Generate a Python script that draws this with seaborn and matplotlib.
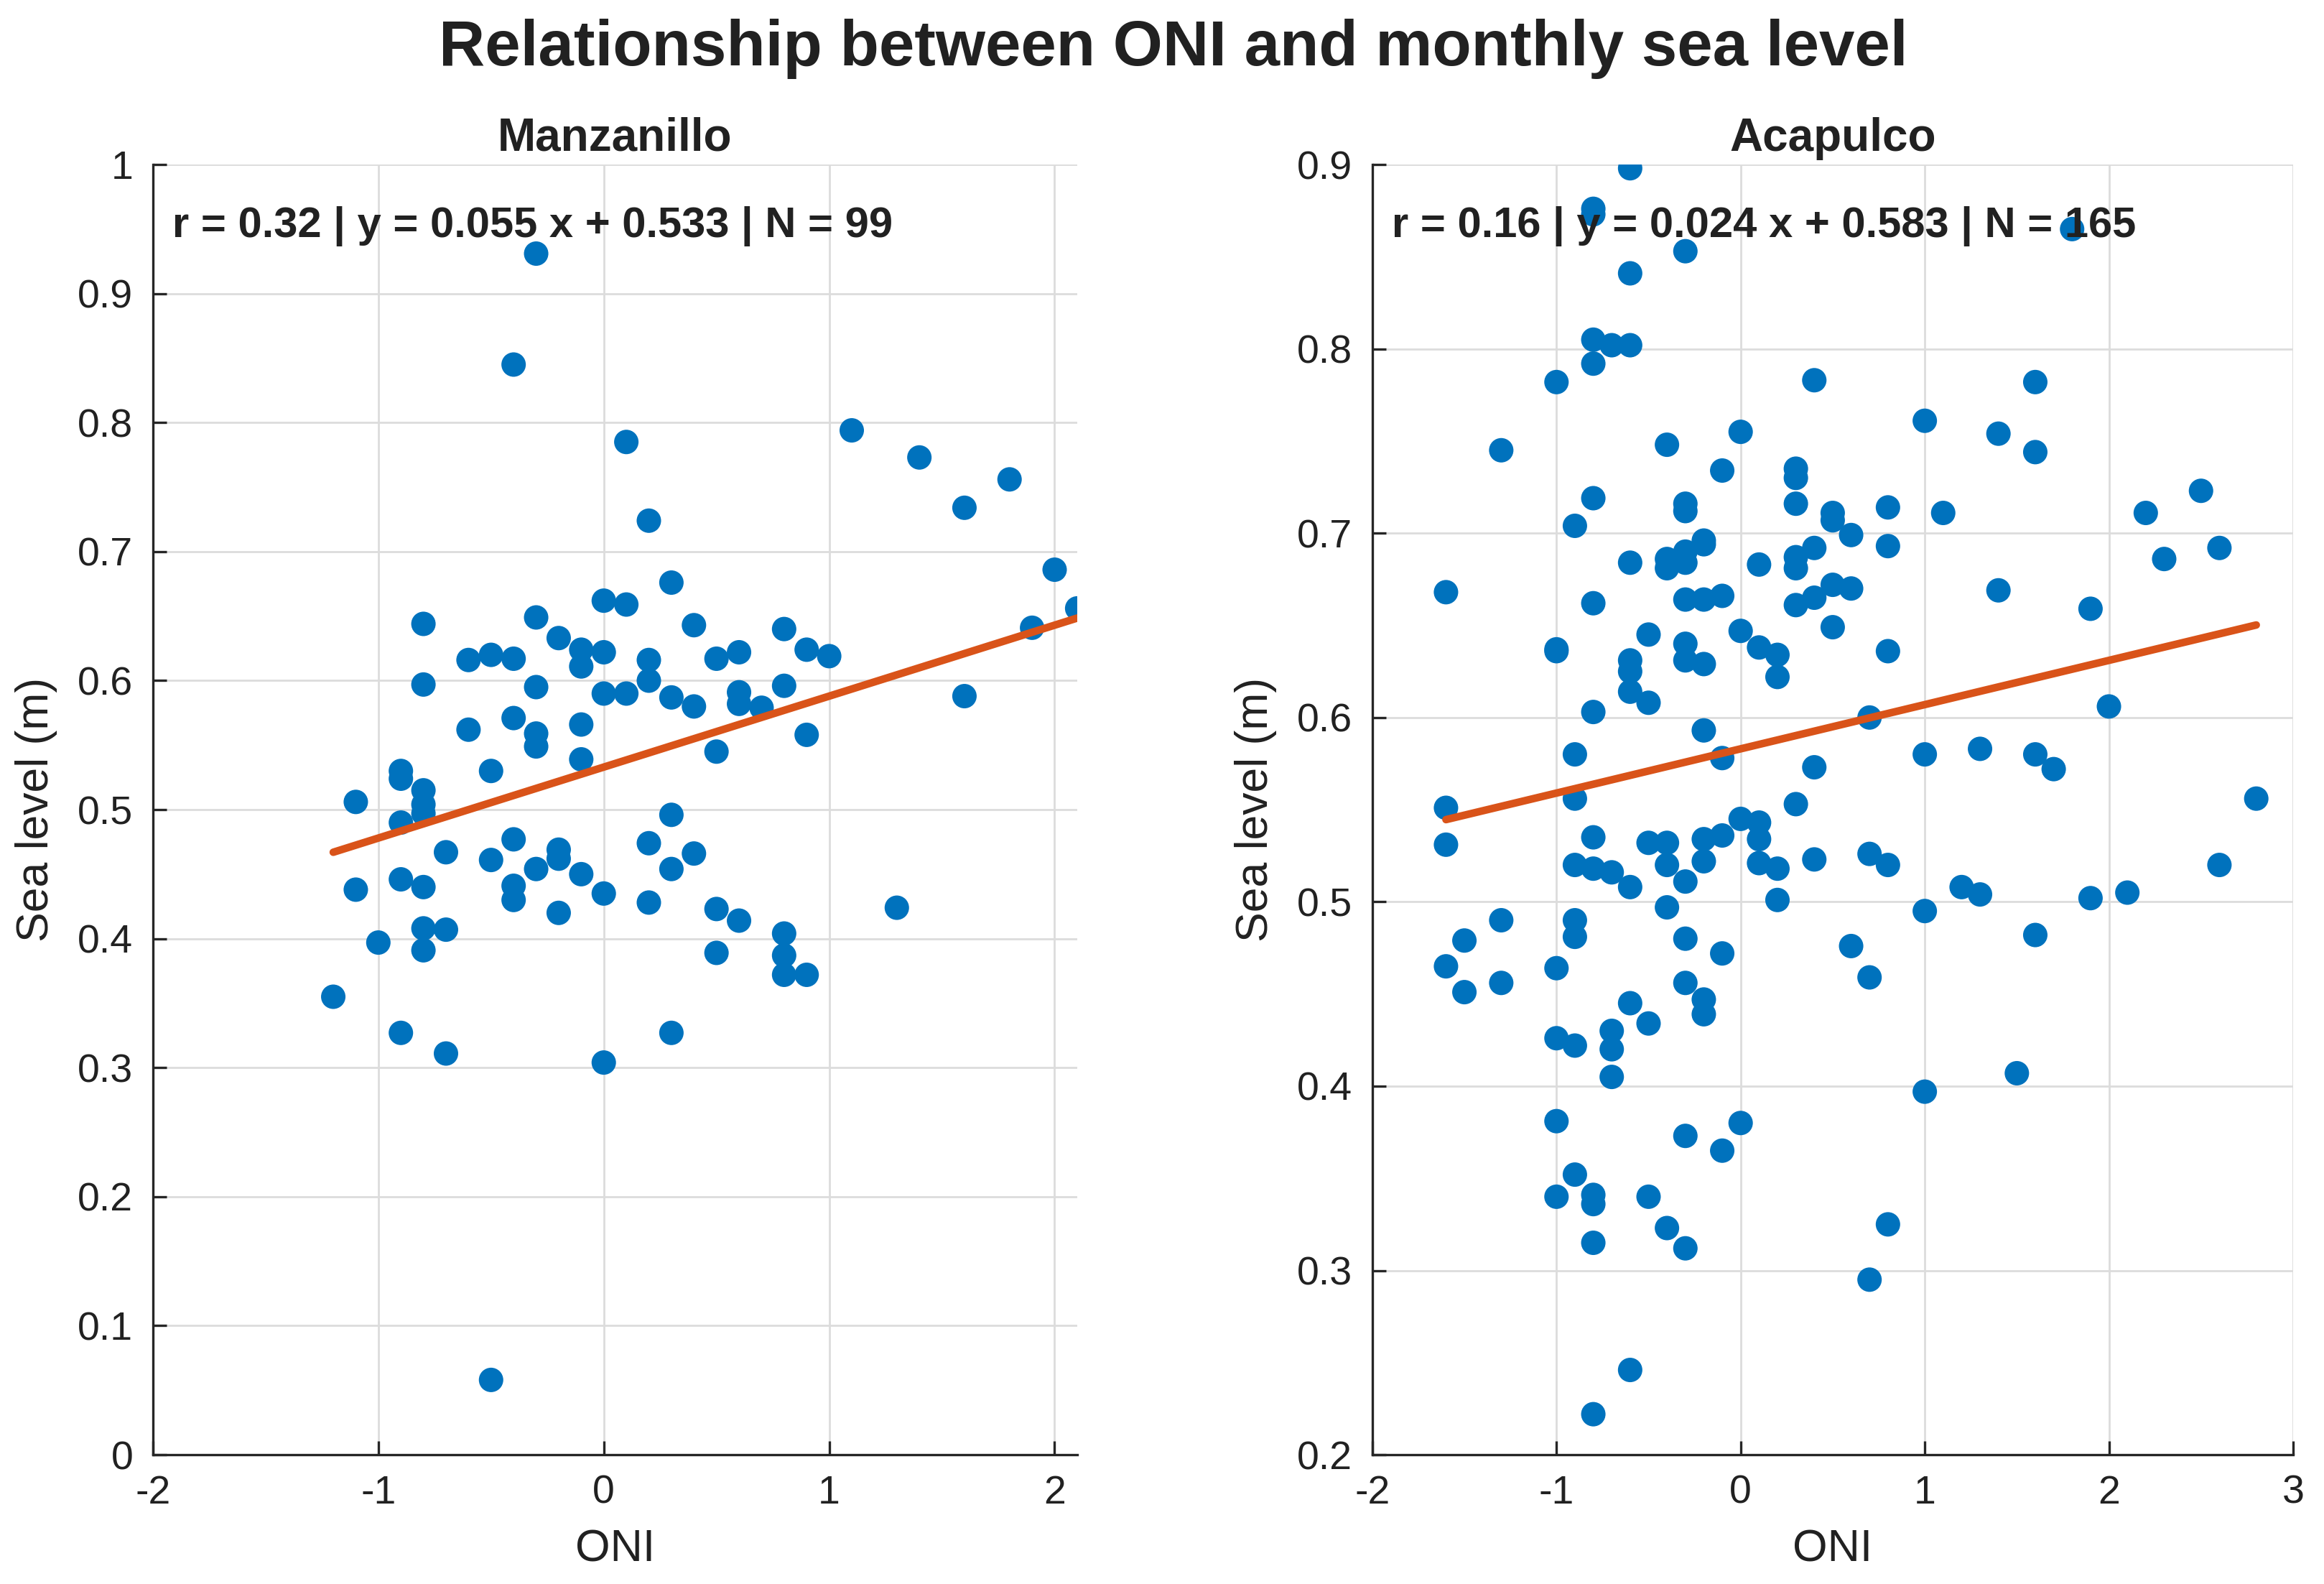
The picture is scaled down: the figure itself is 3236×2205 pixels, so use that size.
import matplotlib
matplotlib.use('Agg')
import matplotlib.pyplot as plt
import matplotlib.ticker as mticker
import numpy as np
import pandas as pd
import seaborn as sns

# Manzanillo: monthly ONI vs sea level (m)
manz_oni = [-1.2, -1.1, -1.1, -1.0,
            -0.9, -0.9, -0.9, -0.9, -0.9,
            -0.8, -0.8, -0.8, -0.8, -0.8, -0.8, -0.8, -0.8,
            -0.7, -0.7, -0.7, -0.6, -0.6,
            -0.5, -0.5, -0.5, -0.5,
            -0.4, -0.4, -0.4, -0.4, -0.4, -0.4,
            -0.3, -0.3, -0.3, -0.3, -0.3, -0.3,
            -0.2, -0.2, -0.2, -0.2,
            -0.1, -0.1, -0.1, -0.1, -0.1,
            0.0, 0.0, 0.0, 0.0, 0.0,
            0.1, 0.1, 0.1,
            0.2, 0.2, 0.2, 0.2, 0.2,
            0.3, 0.3, 0.3, 0.3, 0.3,
            0.4, 0.4, 0.4,
            0.5, 0.5, 0.5, 0.5,
            0.6, 0.6, 0.6, 0.6,
            0.7,
            0.8, 0.8, 0.8, 0.8, 0.8,
            0.9, 0.9, 0.9,
            1.0, 1.1, 1.3, 1.4, 1.6, 1.6, 1.8, 1.9, 2.0, 2.1]
manz_sl = [0.355, 0.506, 0.438, 0.397,
           0.530, 0.524, 0.490, 0.446, 0.327,
           0.644, 0.597, 0.515, 0.504, 0.497, 0.440, 0.408, 0.391,
           0.467, 0.407, 0.311, 0.616, 0.562,
           0.620, 0.530, 0.461, 0.058,
           0.845, 0.617, 0.571, 0.477, 0.441, 0.430,
           0.931, 0.649, 0.595, 0.559, 0.549, 0.454,
           0.633, 0.469, 0.462, 0.420,
           0.624, 0.611, 0.566, 0.539, 0.450,
           0.662, 0.622, 0.590, 0.435, 0.304,
           0.785, 0.659, 0.590,
           0.724, 0.616, 0.600, 0.474, 0.428,
           0.676, 0.587, 0.496, 0.454, 0.327,
           0.643, 0.580, 0.466,
           0.617, 0.545, 0.423, 0.389,
           0.622, 0.591, 0.582, 0.414,
           0.579,
           0.640, 0.596, 0.404, 0.387, 0.372,
           0.624, 0.558, 0.372,
           0.619, 0.794, 0.424, 0.773, 0.734, 0.588, 0.756, 0.641, 0.686, 0.656]

# Acapulco
acap_oni = [-1.6, -1.6, -1.6, -1.6, -1.5, -1.5, -1.3, -1.3, -1.3,
            -1.0, -1.0, -1.0, -1.0, -1.0, -1.0, -1.0,
            -0.9, -0.9, -0.9, -0.9, -0.9, -0.9, -0.9, -0.9,
            -0.8, -0.8, -0.8, -0.8, -0.8, -0.8, -0.8, -0.8, -0.8, -0.8, -0.8, -0.8, -0.8,
            -0.7, -0.7, -0.7, -0.7, -0.7,
            -0.6, -0.6, -0.6, -0.6, -0.6, -0.6, -0.6, -0.6, -0.6, -0.6,
            -0.5, -0.5, -0.5, -0.5, -0.5,
            -0.4, -0.4, -0.4, -0.4, -0.4, -0.4, -0.4,
            -0.3, -0.3, -0.3, -0.3, -0.3, -0.3, -0.3, -0.3, -0.3, -0.3, -0.3, -0.3, -0.3,
            -0.2, -0.2, -0.2, -0.2, -0.2, -0.2, -0.2, -0.2, -0.2,
            -0.1, -0.1, -0.1, -0.1, -0.1, -0.1,
            0.0, 0.0, 0.0, 0.0,
            0.1, 0.1, 0.1, 0.1, 0.1,
            0.2, 0.2, 0.2, 0.2,
            0.3, 0.3, 0.3, 0.3, 0.3, 0.3, 0.3,
            0.4, 0.4, 0.4, 0.4, 0.4,
            0.5, 0.5, 0.5, 0.5,
            0.6, 0.6, 0.6,
            0.7, 0.7, 0.7, 0.7,
            0.8, 0.8, 0.8, 0.8, 0.8,
            1.0, 1.0, 1.0, 1.0,
            1.1, 1.2, 1.3, 1.3, 1.4, 1.4, 1.5,
            1.6, 1.6, 1.6, 1.6, 1.7, 1.8, 1.9, 1.9,
            2.0, 2.1, 2.2, 2.3, 2.5, 2.6, 2.6, 2.8]
acap_sl = [0.668, 0.551, 0.531, 0.465, 0.479, 0.451, 0.745, 0.490, 0.456,
           0.782, 0.637, 0.636, 0.464, 0.426, 0.381, 0.340,
           0.704, 0.580, 0.556, 0.520, 0.490, 0.481, 0.422, 0.352,
           0.876, 0.873, 0.805, 0.792, 0.719, 0.662, 0.603, 0.535, 0.518, 0.341, 0.336, 0.315, 0.222,
           0.802, 0.516, 0.430, 0.420, 0.405,
           0.898, 0.841, 0.802, 0.684, 0.631, 0.625, 0.614, 0.508, 0.445, 0.246,
           0.645, 0.608, 0.532, 0.434, 0.340,
           0.748, 0.686, 0.681, 0.532, 0.520, 0.497, 0.323,
           0.853, 0.716, 0.712, 0.690, 0.684, 0.664, 0.640, 0.631, 0.511, 0.480, 0.456, 0.373, 0.312,
           0.696, 0.694, 0.664, 0.629, 0.593, 0.534, 0.522, 0.447, 0.439,
           0.734, 0.666, 0.578, 0.536, 0.472, 0.365,
           0.755, 0.647, 0.545, 0.380,
           0.683, 0.638, 0.543, 0.534, 0.521,
           0.634, 0.622, 0.518, 0.501,
           0.735, 0.730, 0.716, 0.687, 0.681, 0.661, 0.553,
           0.783, 0.692, 0.665, 0.573, 0.523,
           0.711, 0.707, 0.672, 0.649,
           0.699, 0.670, 0.476,
           0.600, 0.526, 0.459, 0.295,
           0.714, 0.693, 0.636, 0.520, 0.325,
           0.761, 0.580, 0.495, 0.397,
           0.711, 0.508, 0.583, 0.504, 0.754, 0.669, 0.407,
           0.782, 0.744, 0.580, 0.482, 0.572, 0.865, 0.659, 0.502,
           0.606, 0.505, 0.711, 0.686, 0.723, 0.692, 0.520, 0.556]

# fit statistics as printed on the chart
manz_r, manz_slope, manz_intercept, manz_n = 0.32, 0.055, 0.533, 99
acap_r, acap_slope, acap_intercept, acap_n = 0.16, 0.024, 0.583, 165

sns.set_theme(style='white')
plt.rcParams['font.family'] = ['Liberation Sans', 'DejaVu Sans']
plt.rcParams['axes.unicode_minus'] = False

TEXT = '#212121'
DOT = '#0072BD'
FIT = '#D95319'


def draw_panel(ax, oni, sl, r, slope, intercept, n, title, xlim, ylim, xticks, yticks):
    df = pd.DataFrame({'ONI': oni, 'SL': sl})

    # scatter of the monthly values
    sns.scatterplot(data=df, x='ONI', y='SL', ax=ax, color=DOT, s=150,
                    edgecolor='none', linewidth=0, zorder=2)

    # least-squares line over the data range
    xs = np.array([df['ONI'].min(), df['ONI'].max()])
    sns.lineplot(x=xs, y=slope * xs + intercept, ax=ax, color=FIT,
                 linewidth=3.8, zorder=3)

    ax.set_xlim(*xlim)
    ax.set_ylim(*ylim)
    ax.set_xticks(xticks)
    ax.set_yticks(yticks)
    ax.xaxis.set_major_formatter(mticker.FormatStrFormatter('%g'))
    ax.yaxis.set_major_formatter(mticker.FormatStrFormatter('%g'))

    ax.grid(True, color='#dcdcdc', linewidth=1.0)
    ax.set_axisbelow(True)
    for side in ['top', 'right']:
        ax.spines[side].set_visible(False)
    for side in ['left', 'bottom']:
        ax.spines[side].set_color('#262626')
        ax.spines[side].set_linewidth(1.2)
    ax.tick_params(bottom=True, left=True, direction='in', length=7, width=1.2,
                   colors='#262626', labelsize=20, pad=10, labelcolor=TEXT)

    ax.set_xlabel('ONI', fontsize=22.5, color=TEXT, labelpad=8)
    ax.set_ylabel('Sea level (m)', fontsize=22.5, color=TEXT, labelpad=10)
    ax.set_title(title, fontsize=23, fontweight='bold', color=TEXT, pad=7)

    label = f'r = {r:.2f} | y = {slope:.3f} x + {intercept:.3f} | N = {n}'
    ax.text(0.021, 0.952, label, transform=ax.transAxes, fontsize=21.5,
            fontweight='bold', color=TEXT, va='center', ha='left', zorder=5)


fig = plt.figure(figsize=(16.18, 11.025), dpi=200)
ax1 = fig.add_axes([0.0658, 0.0816, 0.3977, 0.8145])
ax2 = fig.add_axes([0.5905, 0.0816, 0.3962, 0.8145])

draw_panel(ax1, manz_oni, manz_sl, manz_r, manz_slope, manz_intercept, manz_n,
           'Manzanillo', (-2, 2.1), (0, 1), [-2, -1, 0, 1, 2],
           np.round(np.arange(0, 1.01, 0.1), 1))
draw_panel(ax2, acap_oni, acap_sl, acap_r, acap_slope, acap_intercept, acap_n,
           'Acapulco', (-2, 3), (0.2, 0.9), [-2, -1, 0, 1, 2, 3],
           np.round(np.arange(0.2, 0.91, 0.1), 1))

fig.text(0.505, 0.9587, 'Relationship between ONI and monthly sea level',
         ha='center', va='baseline', fontsize=32, fontweight='bold', color=TEXT)

fig.savefig('out.png', dpi=200)
